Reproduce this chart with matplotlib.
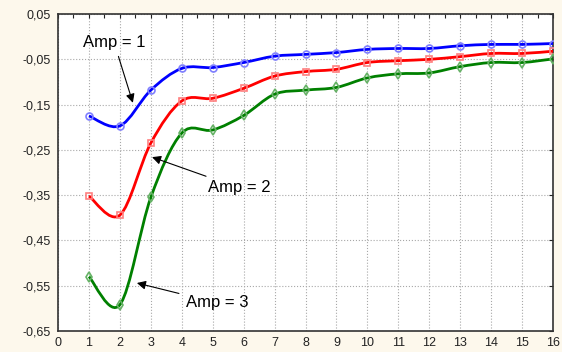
import numpy as np
import matplotlib.pyplot as plt
from matplotlib.path import Path
import matplotlib.patches as patches
from matplotlib.ticker import MultipleLocator, FuncFormatter

plt.rcParams['font.family'] = ['Liberation Sans', 'DejaVu Sans']

x = [1, 2, 3, 4, 5, 6, 7, 8, 9, 10, 11, 12, 13, 14, 15, 16]
amp1 = [-0.175, -0.197, -0.118, -0.070, -0.068, -0.057, -0.043, -0.039,
        -0.035, -0.028, -0.026, -0.026, -0.020, -0.017, -0.017, -0.015]
amp2 = [-0.352, -0.394, -0.235, -0.142, -0.136, -0.114, -0.087, -0.077,
        -0.072, -0.057, -0.053, -0.050, -0.044, -0.037, -0.037, -0.032]
amp3 = [-0.530, -0.592, -0.355, -0.213, -0.206, -0.174, -0.127, -0.118,
        -0.112, -0.091, -0.082, -0.080, -0.066, -0.057, -0.057, -0.049]
labels = ['Amp = 1', 'Amp = 2', 'Amp = 3']
yticks = [0.05, -0.05, -0.15, -0.25, -0.35, -0.45, -0.55, -0.65]


def smooth_path(xs, ys):
    # catmull-rom curve through the points, drawn as bezier segments
    p = np.column_stack([xs, ys]).astype(float)
    p = np.vstack([p[0], p, p[-1]])
    verts = [p[1]]
    codes = [Path.MOVETO]
    for i in range(1, len(p) - 2):
        c1 = p[i] + (p[i + 1] - p[i - 1]) / 6
        c2 = p[i + 1] - (p[i + 2] - p[i]) / 6
        verts += [c1, c2, p[i + 1]]
        codes += [Path.CURVE4] * 3
    return Path(verts, codes)


fig = plt.figure(figsize=(5.62, 3.52), dpi=100, facecolor='#fdf8ec')
ax = fig.add_axes([0.1032, 0.0597, 0.8808, 0.9003])
ax.set_facecolor('white')

series = [(amp1, 'blue', '#7f7fff', 'o', 5),
          (amp2, 'red', '#ff7f7f', 's', 5),
          (amp3, 'green', '#66b266', 'd', 5)]
for ys, col, light, mk, ms in series:
    ax.add_patch(patches.PathPatch(smooth_path(x, ys), facecolor='none',
                                   edgecolor=col, linewidth=2.0, zorder=3))
    ax.plot(x, ys, linestyle='none', marker=mk, markersize=ms,
            markerfacecolor='none', markeredgecolor=light,
            markeredgewidth=1.2, zorder=4)

arrow = dict(arrowstyle='-|>', color='black', lw=0.8, mutation_scale=13,
             shrinkA=3, shrinkB=0)
ax.annotate(labels[0], xy=(2.42, -0.146), xytext=(1.81, -0.012),
            ha='center', va='center', fontsize=12, arrowprops=arrow)
ax.annotate(labels[1], xy=(3.04, -0.266), xytext=(5.85, -0.334),
            ha='center', va='center', fontsize=12, arrowprops=arrow)
ax.annotate(labels[2], xy=(2.55, -0.544), xytext=(5.14, -0.588),
            ha='center', va='center', fontsize=12, arrowprops=arrow)

ax.set_xlim(0, 16)
ax.set_ylim(-0.65, 0.05)
ax.xaxis.set_major_locator(MultipleLocator(1))
ax.xaxis.set_minor_locator(MultipleLocator(0.5))
ax.set_yticks(yticks)
ax.yaxis.set_major_formatter(FuncFormatter(lambda v, p: ('%.2f' % v).replace('.', ',')))

ax.grid(True, which='major', linestyle=':', color='#a8a8a8', linewidth=0.8)
ax.tick_params(which='both', direction='in', top=True, right=True,
               bottom=False, left=False, labelsize=9, colors='#222222',
               length=3, width=0.8)
ax.tick_params(axis='x', which='minor', bottom=False, top=True, length=3)
ax.tick_params(axis='x', pad=4)
ax.tick_params(axis='y', pad=5)
for s in ax.spines.values():
    s.set_color('#333333')
    s.set_linewidth(1.2)

fig.savefig('out.png', dpi=100, facecolor=fig.get_facecolor())
